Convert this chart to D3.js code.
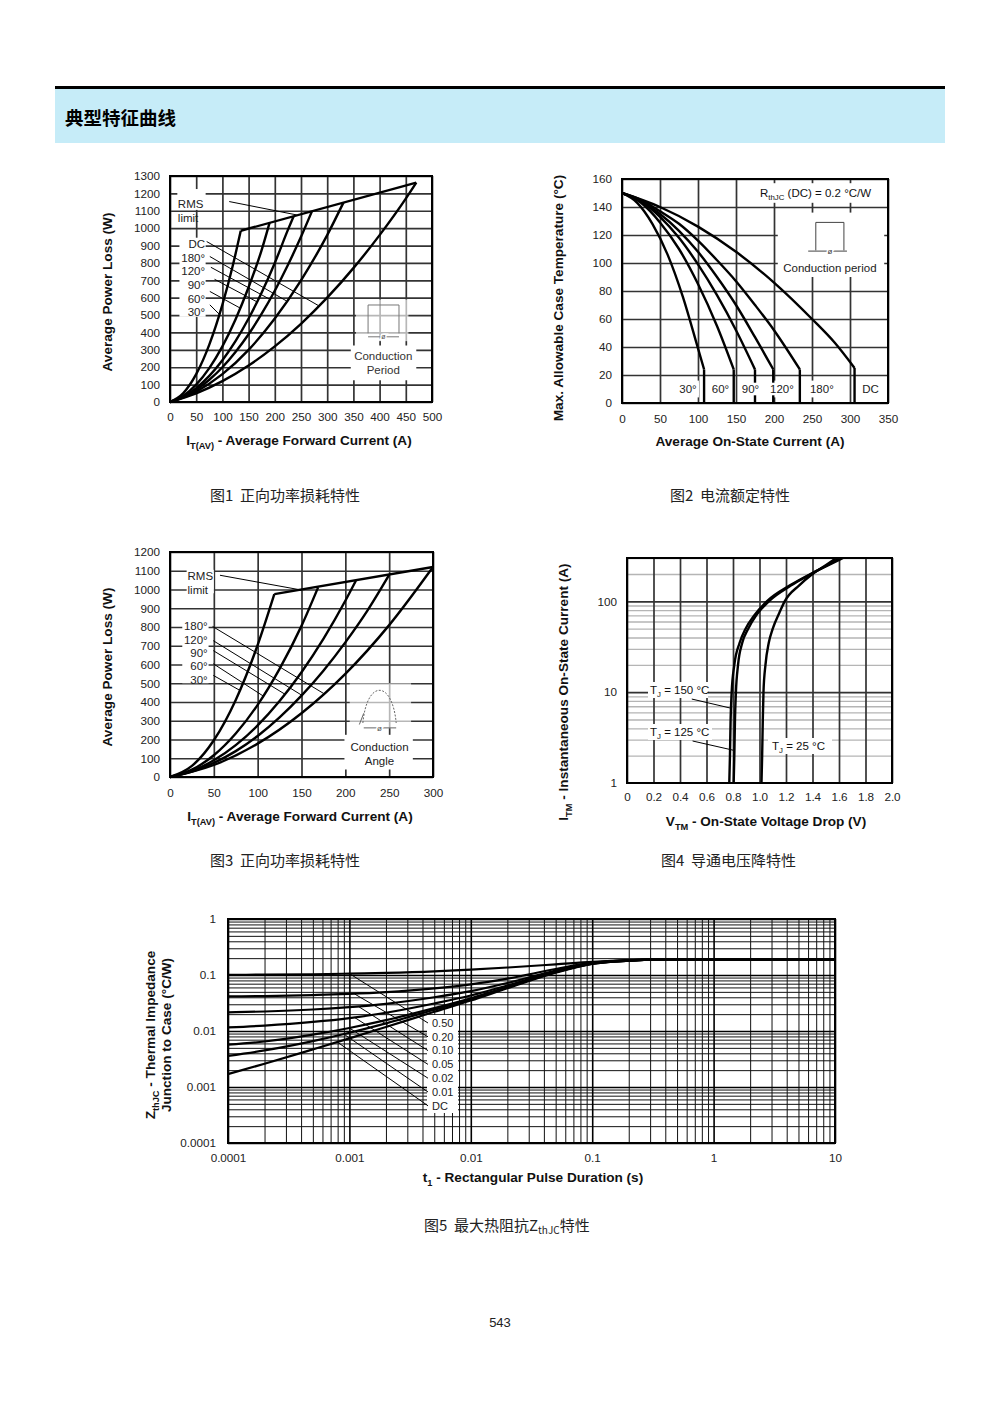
<!DOCTYPE html>
<html>
<head>
<meta charset="utf-8">
<script src="https://cdn.jsdelivr.net/npm/d3@7"></script>
<style>
body { margin: 0; background: #fff; }
svg { display: block; }
text { font-family: "Liberation Sans", Arial, sans-serif; white-space: pre; }
.cn { font-family: "Noto Sans CJK SC", sans-serif; }
</style>
</head>
<body>
<svg id="page" width="1000" height="1414"></svg>
<script>
// ---------- Fig 1 : power loss, rectangular conduction period ----------
var fig1XTicks = [0, 50, 100, 150, 200, 250, 300, 350, 400, 450, 500];
var fig1YTicks = [0, 100, 200, 300, 400, 500, 600, 700, 800, 900, 1000, 1100, 1200, 1300];
var fig1_30  = [[0,0],[25,50],[50,160],[75,330],[100,560],[120,787],[135,985]];
var fig1_60  = [[0,0],[25,35],[50,100],[75,195],[100,320],[125,475],[150,660],[175,875],[190,1030]];
var fig1_90  = [[0,0],[25,30],[50,80],[75,150],[100,240],[125,350],[150,480],[175,630],[200,800],[225,990],[236,1069]];
var fig1_120 = [[0,0],[25,28],[50,70],[75,128],[100,200],[125,288],[150,390],[175,508],[200,640],[225,788],[250,950],[271,1098]];
var fig1_180 = [[0,0],[50,60],[100,160],[150,300],[200,480],[250,700],[300,960],[331,1147]];
var fig1_dc  = [[0,0],[50,50],[100,120],[150,210],[200,320],[250,450],[300,600],[350,770],[400,960],[450,1170],[470,1262]];
var fig1_rms = [[135,985],[470,1262]];
var fig1Labels = ['DC', '180°', '120°', '90°', '60°', '30°'];

// ---------- Fig 2 : current rating (case temperature) ----------
var fig2XTicks = [0, 50, 100, 150, 200, 250, 300, 350];
var fig2YTicks = [0, 20, 40, 60, 80, 100, 120, 140, 160];
var fig2_30  = [[0,150],[20,143],[40,128],[60,106],[80,76],[100,39],[108,24]];
var fig2_60  = [[0,150],[25,143],[50,129],[75,110],[100,85],[125,55],[147,24]];
var fig2_90  = [[0,150],[25,144],[50,133],[75,118],[100,99],[125,77],[150,52],[175,24]];
var fig2_120 = [[0,150],[25,144],[50,135],[75,123],[100,108],[125,90],[150,70],[175,47],[199,24]];
var fig2_180 = [[0,150],[25,145],[50,137],[75,128],[100,116],[125,102],[150,87],[175,70],[200,52],[234,24]];
var fig2_dc  = [[0,150],[50,140],[100,126],[150,108],[200,86],[250,60],[280,43],[306,25]];
var fig2Labels = ['30°', '60°', '90°', '120°', '180°', 'DC'];

// ---------- Fig 3 : power loss, sinusoidal conduction angle ----------
var fig3XTicks = [0, 50, 100, 150, 200, 250, 300];
var fig3YTicks = [0, 100, 200, 300, 400, 500, 600, 700, 800, 900, 1000, 1100, 1200];
var fig3_30  = [[0,0],[25,59],[50,196],[75,411],[100,704],[119,975]];
var fig3_60  = [[0,0],[25,39],[50,116],[75,232],[100,385],[125,577],[150,806],[169,1012]];
var fig3_90  = [[0,0],[25,32],[50,89],[75,170],[100,275],[125,405],[150,559],[175,737],[200,940],[212,1047]];
var fig3_120 = [[0,0],[25,29],[50,75],[75,138],[100,219],[125,318],[150,434],[175,567],[200,718],[225,886],[250,1078]];
var fig3_180 = [[0,0],[50,64],[100,178],[150,340],[200,550],[250,810],[300,1120]];
var fig3_rms = [[119,975],[300,1120]];
var fig3Labels = ['180°', '120°', '90°', '60°', '30°'];

// ---------- Fig 4 : on-state voltage drop ----------
var fig4XTicks = [0, 0.2, 0.4, 0.6, 0.8, 1.0, 1.2, 1.4, 1.6, 1.8, 2.0];
var fig4YTicks = [1, 10, 100];
var fig4_25  = [[1.015,1],[1.02,2],[1.025,5],[1.03,10],[1.045,20],[1.07,35],[1.1,50],[1.15,75],[1.19,100],[1.3,150],[1.40,200],[1.5,250],[1.58,300]];
var fig4_125 = [[0.805,1],[0.81,2],[0.815,5],[0.822,10],[0.838,20],[0.87,35],[0.915,50],[0.975,70],[1.07,100],[1.24,150],[1.39,200],[1.51,250],[1.61,300]];
var fig4_150 = [[0.772,1],[0.777,2],[0.782,5],[0.79,10],[0.81,20],[0.85,35],[0.895,50],[0.96,70],[1.055,100],[1.23,150],[1.385,200],[1.52,250],[1.63,300]];

// ---------- Fig 5 : transient thermal impedance ----------
var fig5XTicks = [0.0001, 0.001, 0.01, 0.1, 1, 10];
var fig5XLabels = ['0.0001', '0.001', '0.01', '0.1', '1', '10'];
var fig5YTicks = [0.0001, 0.001, 0.01, 0.1, 1];
var fig5YLabels = ['0.0001', '0.001', '0.01', '0.1', '1'];
var fig5T   = [0.0001, 0.0002, 0.0005, 0.001, 0.002, 0.005, 0.01, 0.02, 0.05, 0.1, 0.2, 0.4, 1, 10];
var fig5_50 = [0.1005, 0.1015, 0.103, 0.106, 0.109, 0.116, 0.125, 0.136, 0.155, 0.172, 0.185, 0.19, 0.19, 0.19];
var fig5_20 = [0.0414, 0.0421, 0.0438, 0.0459, 0.0494, 0.0576, 0.068, 0.086, 0.128, 0.166, 0.183, 0.19, 0.19, 0.19];
var fig5_10 = [0.0215, 0.0223, 0.0242, 0.0267, 0.0306, 0.04, 0.0515, 0.072, 0.12, 0.163, 0.182, 0.19, 0.19, 0.19];
var fig5_05 = [0.0116, 0.0125, 0.0145, 0.017, 0.0212, 0.031, 0.043, 0.065, 0.116, 0.161, 0.181, 0.19, 0.19, 0.19];
var fig5_02 = [0.0057, 0.0065, 0.0086, 0.0113, 0.0156, 0.0256, 0.0385, 0.061, 0.113, 0.16, 0.18, 0.19, 0.19, 0.19];
var fig5_01 = [0.0036, 0.0045, 0.0066, 0.0093, 0.0137, 0.024, 0.037, 0.06, 0.112, 0.159, 0.18, 0.19, 0.19, 0.19];
var fig5_dc = [0.0017, 0.0026, 0.0047, 0.0074, 0.0118, 0.022, 0.035, 0.058, 0.11, 0.158, 0.18, 0.19, 0.19, 0.19];
var fig5Labels = ['0.50', '0.20', '0.10', '0.05', '0.02', '0.01', 'DC'];

var svg = d3.select('#page');
var TITLE = 13.6;

// Build scales and group for one chart frame
function makeChart(o){
    var x = (o.xlog ? d3.scaleLog() : d3.scaleLinear()).domain(o.xd).range([o.x0, o.x1]);
    var y = (o.ylog ? d3.scaleLog() : d3.scaleLinear()).domain(o.yd).range([o.y1, o.y0]);
    var g = svg.append('g');
    return {g: g, x: x, y: y, o: o};
}

// Grid lines through the axis generators
function drawGrid(c, xv, yv, stroke, sw, dir){
    var o = c.o;
    if(dir !== 'y'){
        c.g.append('g')
        .attr('transform', 'translate(0,' + o.y1 + ')')
        .call(d3.axisBottom(c.x).tickValues(xv).tickSize(-(o.y1 - o.y0)).tickFormat(''))
        .call(function(s){ s.select('.domain').remove(); })
        .selectAll('line').attr('stroke', stroke).attr('stroke-width', sw);
    }
    if(dir !== 'x'){
        c.g.append('g')
        .attr('transform', 'translate(' + o.x0 + ',0)')
        .call(d3.axisLeft(c.y).tickValues(yv).tickSize(-(o.x1 - o.x0)).tickFormat(''))
        .call(function(s){ s.select('.domain').remove(); })
        .selectAll('line').attr('stroke', stroke).attr('stroke-width', sw);
    }
}

// Tick labels only (no tick marks)
function tickLabels(c, xv, yv, fx, fy, px, py){
    var o = c.o;
    c.g.append('g')
    .attr('transform', 'translate(0,' + o.y1 + ')')
    .call(d3.axisBottom(c.x).tickValues(xv).tickSize(0).tickPadding(px).tickFormat(fx))
    .call(function(s){ s.select('.domain').remove(); })
    .attr('font-family', null).attr('font-size', null)
    .selectAll('text').attr('font-size', 11.7).attr('fill', '#222');
    c.g.append('g')
    .attr('transform', 'translate(' + o.x0 + ',0)')
    .call(d3.axisLeft(c.y).tickValues(yv).tickSize(0).tickPadding(py).tickFormat(fy))
    .call(function(s){ s.select('.domain').remove(); })
    .attr('font-family', null).attr('font-size', null)
    .selectAll('text').attr('font-size', 11.7).attr('fill', '#222');
}

function frame(c){
    var o = c.o;
    c.g.append('rect')
    .attr('x', o.x0).attr('y', o.y0)
    .attr('width', o.x1 - o.x0).attr('height', o.y1 - o.y0)
    .attr('fill', 'none').attr('stroke', '#000').attr('stroke-width', 2);
}

function curve(c, data, sw, clip){
    var line = d3.line()
        .x(function(d){ return c.x(d[0]); })
        .y(function(d){ return c.y(d[1]); })
        .curve(d3.curveMonotoneX);
    var p = c.g.append('path')
    .datum(data)
    .attr('fill', 'none')
    .attr('stroke', '#000')
    .attr('stroke-width', sw || 2.4)
    .attr('stroke-linejoin', 'round')
    .attr('d', line);
    if(clip) p.attr('clip-path', 'url(#' + clip + ')');
    return p;
}

// Straight line between two data points
function seg(c, a, b, sw, col){
    c.g.append('line')
    .attr('x1', c.x(a[0])).attr('y1', c.y(a[1]))
    .attr('x2', c.x(b[0])).attr('y2', c.y(b[1]))
    .attr('stroke', col || '#000').attr('stroke-width', sw || 1);
}

// White box in data coordinates
function whiteBox(c, xa, xb, ya, yb, op){
    var x1 = c.x(xa), x2 = c.x(xb), y1 = c.y(ya), y2 = c.y(yb);
    c.g.append('rect')
    .attr('x', Math.min(x1, x2)).attr('y', Math.min(y1, y2))
    .attr('width', Math.abs(x2 - x1)).attr('height', Math.abs(y2 - y1))
    .attr('fill', '#fff').attr('opacity', op || 1);
}

// Text with optional subscripts: parts are strings or [sub] arrays
function richText(g, x, y, parts, size, weight, anchor, rotate){
    var t = g.append('text')
        .attr('x', x).attr('y', y)
        .attr('font-size', size)
        .attr('font-weight', weight || 'normal')
        .attr('text-anchor', anchor || 'start')
        .attr('fill', '#111');
    if(rotate) t.attr('transform', 'rotate(-90,' + x + ',' + y + ')');
    var shift = 0;
    parts.forEach(function(p){
        if(Array.isArray(p)){
            t.append('tspan').text(p[0]).attr('font-size', size * 0.68).attr('dy', size * 0.3 - shift);
            shift = size * 0.3;
        }
        else{
            t.append('tspan').text(p).attr('dy', -shift);
            shift = 0;
        }
    });
    return t;
}

function dataText(c, xv, yv, s, anchor, size){
    c.g.append('text')
    .attr('x', c.x(xv)).attr('y', c.y(yv))
    .attr('dy', '0.35em')
    .attr('text-anchor', anchor || 'start')
    .attr('font-size', size || 11.5)
    .attr('fill', '#222')
    .text(s);
}

// ================= Header =================
svg.append('rect').attr('x', 55).attr('y', 86).attr('width', 890).attr('height', 3).attr('fill', '#000');
svg.append('rect').attr('x', 55).attr('y', 89).attr('width', 890).attr('height', 54).attr('fill', '#c6ecf8');
svg.append('text').attr('class', 'cn').attr('x', 65).attr('y', 125)
    .attr('font-size', 18.5).attr('font-weight', 'bold').attr('fill', '#000').text('典型特征曲线');

// ================= Fig 1 =================
var c1 = makeChart({x0: 170, x1: 432, y0: 176, y1: 402, xd: [0, 500], yd: [0, 1300]});
drawGrid(c1, fig1XTicks, fig1YTicks, '#333', 1.7);
whiteBox(c1, 14, 68, 1225, 1105);
whiteBox(c1, 18, 68, 945, 490);
whiteBox(c1, 345, 470, 325, 125);
whiteBox(c1, 355, 455, 590, 350, 0.65);
[fig1_30, fig1_60, fig1_90, fig1_120, fig1_180, fig1_dc, fig1_rms].forEach(function(d){ curve(c1, d); });
// leaders
seg(c1, [113,1153], [242,1076]);
seg(c1, [70,923], [283,555]);
seg(c1, [76,837], [223,580]);
seg(c1, [78,775], [191,590]);
seg(c1, [85,706], [166,576]);
seg(c1, [76,636], [134,540]);
seg(c1, [76,559], [94,505]);
dataText(c1, 15, 1140, 'RMS');
dataText(c1, 15, 1060, 'limit');
fig1Labels.forEach(function(s, i){ dataText(c1, 67, 910 - i * 79, s, 'end'); });
// conduction period inset
var ip = c1.g.append('g').attr('stroke', '#777').attr('stroke-width', 1).attr('fill', 'none');
ip.append('path').attr('d', 'M' + c1.x(378) + ',' + c1.y(395) + 'V' + c1.y(558) + 'H' + c1.x(437) + 'V' + c1.y(395));
ip.append('line').attr('x1', c1.x(378)).attr('x2', c1.x(437)).attr('y1', c1.y(375)).attr('y2', c1.y(375));
c1.g.append('text').attr('x', c1.x(407)).attr('y', c1.y(375)).attr('dy', '0.35em').attr('text-anchor', 'middle')
    .attr('font-size', 7).attr('fill', '#555').style('paint-order', 'stroke').attr('stroke', '#fff').attr('stroke-width', 3).text('ø');
c1.g.append('text').attr('x', c1.x(407)).attr('y', c1.y(264)).attr('dy', '0.35em').attr('text-anchor', 'middle').attr('font-size', 11.5).attr('fill', '#333').text('Conduction');
c1.g.append('text').attr('x', c1.x(407)).attr('y', c1.y(185)).attr('dy', '0.35em').attr('text-anchor', 'middle').attr('font-size', 11.5).attr('fill', '#333').text('Period');
frame(c1);
tickLabels(c1, fig1XTicks, fig1YTicks, d3.format('d'), d3.format('d'), 11, 10);
richText(svg, 299, 445, ['I', ['T(AV)'], ' - Average Forward Current (A)'], TITLE, 'bold', 'middle');
richText(svg, 112, 292, ['Average Power Loss (W)'], TITLE, 'bold', 'middle', true);

// ================= Fig 2 =================
var c2 = makeChart({x0: 622, x1: 888, y0: 179, y1: 403, xd: [0, 350], yd: [0, 160]});
drawGrid(c2, fig2XTicks, fig2YTicks, '#333', 1.7);
whiteBox(c2, 176, 340, 157, 143);
whiteBox(c2, 205, 345, 136, 90);
var lx2 = [86.8, 129.6, 169, 210.5, 263, 327];
fig2Labels.forEach(function(s, i){
    var w = s.length * 6.3 + 3;
    c2.g.append('rect').attr('x', c2.x(lx2[i]) - w / 2).attr('y', c2.y(16)).attr('width', w).attr('height', c2.y(4) - c2.y(16)).attr('fill', '#fff');
});
[fig2_30, fig2_60, fig2_90, fig2_120, fig2_180, fig2_dc].forEach(function(d){
    curve(c2, d);
    var e = d[d.length - 1];
    seg(c2, e, [e[0], 0], 2.4);
});
// label boxes sit over the vertical drops, as in the print
fig2Labels.forEach(function(s, i){
    var w = s.length * 6.3 + 3;
    c2.g.append('rect').attr('x', c2.x(lx2[i]) - w / 2).attr('y', c2.y(14.5)).attr('width', w).attr('height', c2.y(5.5) - c2.y(14.5)).attr('fill', '#fff');
    dataText(c2, lx2[i], 10, s, 'middle');
});
richText(c2.g, 760, 197, ['R', ['thJC'], ' (DC) = 0.2 °C/W'], 11.5, 'normal', 'start');
var ip2 = c2.g.append('g').attr('stroke', '#444').attr('stroke-width', 1).attr('fill', 'none');
ip2.append('path').attr('d', 'M' + c2.x(255) + ',' + c2.y(109) + 'V' + c2.y(129) + 'H' + c2.x(292) + 'V' + c2.y(109));
ip2.append('line').attr('x1', c2.x(245)).attr('x2', c2.x(296)).attr('y1', c2.y(108.5)).attr('y2', c2.y(108.5));
c2.g.append('text').attr('x', c2.x(273.5)).attr('y', c2.y(108.5)).attr('dy', '0.35em').attr('text-anchor', 'middle')
    .attr('font-size', 8).attr('fill', '#444').style('paint-order', 'stroke').attr('stroke', '#fff').attr('stroke-width', 3).text('ø');
dataText(c2, 273.5, 96.5, 'Conduction period', 'middle');
frame(c2);
tickLabels(c2, fig2XTicks, fig2YTicks, d3.format('d'), d3.format('d'), 12, 10);
richText(svg, 750, 446, ['Average On-State Current (A)'], TITLE, 'bold', 'middle');
richText(svg, 562.5, 298, ['Max. Allowable Case Temperature (°C)'], TITLE, 'bold', 'middle', true);

// ================= Fig 3 =================
var c3 = makeChart({x0: 170, x1: 433, y0: 552, y1: 777, xd: [0, 300], yd: [0, 1200]});
drawGrid(c3, fig3XTicks, fig3YTicks, '#333', 1.7);
whiteBox(c3, 19, 50, 1105, 980);
whiteBox(c3, 14, 44, 845, 500);
whiteBox(c3, 199, 277, 225, 40);
whiteBox(c3, 205, 275, 500, 260, 0.65);
[fig3_30, fig3_60, fig3_90, fig3_120, fig3_180, fig3_rms].forEach(function(d){ curve(c3, d); });
seg(c3, [57,1076], [150,997]);
seg(c3, [48.6,803], [175.4,445]);
seg(c3, [49.4,727], [150,437]);
seg(c3, [49.4,674], [131,442]);
seg(c3, [49.4,604], [106.3,432]);
seg(c3, [49.4,542], [79.7,462]);
dataText(c3, 20, 1070, 'RMS');
dataText(c3, 20, 995, 'limit');
fig3Labels.forEach(function(s, i){ dataText(c3, 43, 803 - i * (i < 4 ? 70 : 71), s, 'end'); });
// conduction angle inset
var bx = c3.x(220), ex = c3.x(258), mx = c3.x(239), by = c3.y(288), ty = c3.y(478);
c3.g.append('path')
    .attr('d', 'M' + bx + ',' + by + 'C' + (bx + 4) + ',' + (ty - 8) + ' ' + (ex - 4) + ',' + (ty - 8) + ' ' + ex + ',' + by)
    .attr('fill', 'none').attr('stroke', '#666').attr('stroke-width', 1).attr('stroke-dasharray', '2,1.5');
seg(c3, [216,280], [221,340], 1, '#666');
seg(c3, [221,262], [258,262], 1, '#666');
c3.g.append('text').attr('x', mx).attr('y', c3.y(262)).attr('dy', '0.35em').attr('text-anchor', 'middle')
    .attr('font-size', 8).attr('fill', '#555').style('paint-order', 'stroke').attr('stroke', '#fff').attr('stroke-width', 3).text('ø');
dataText(c3, 239, 158, 'Conduction', 'middle');
dataText(c3, 239, 85, 'Angle', 'middle');
frame(c3);
tickLabels(c3, fig3XTicks, fig3YTicks, d3.format('d'), d3.format('d'), 12, 10);
richText(svg, 300, 821, ['I', ['T(AV)'], ' - Average Forward Current (A)'], TITLE, 'bold', 'middle');
richText(svg, 112, 667, ['Average Power Loss (W)'], TITLE, 'bold', 'middle', true);

// ================= Fig 4 =================
var c4 = makeChart({x0: 627, x1: 892, y0: 558, y1: 783, xd: [0, 2], yd: [1, 300], ylog: true});
svg.append('defs').append('clipPath').attr('id', 'clip4').append('rect')
    .attr('x', 627).attr('y', 558).attr('width', 265).attr('height', 225);
var minor4 = [];
[1, 10, 100].forEach(function(d){ for(var k = 2; k <= 9; k++){ if(k * d <= 300) minor4.push(k * d); } });
drawGrid(c4, [], minor4, '#b5b5b5', 1.3, 'y');
drawGrid(c4, fig4XTicks, [10, 100], '#333', 1.7);
c4.g.append('rect').attr('x', 648).attr('y', 682).attr('width', 60).attr('height', 16).attr('fill', '#fff');
c4.g.append('rect').attr('x', 648).attr('y', 724).attr('width', 64).attr('height', 16).attr('fill', '#fff');
c4.g.append('rect').attr('x', 768).attr('y', 738).attr('width', 64).attr('height', 16).attr('fill', '#fff');
[fig4_25, fig4_125, fig4_150].forEach(function(d){ curve(c4, d, 2.4, 'clip4'); });
seg(c4, [0.489,8.4], [0.777,6.7]);
seg(c4, [0.495,2.9], [0.80,2.3]);
richText(c4.g, 650, 694, ['T', ['J'], ' = 150 °C'], 11.5, 'normal', 'start');
richText(c4.g, 650, 736, ['T', ['J'], ' = 125 °C'], 11.5, 'normal', 'start');
richText(c4.g, 772, 750, ['T', ['J'], ' = 25 °C'], 11.5, 'normal', 'start');
frame(c4);
tickLabels(c4, fig4XTicks, fig4YTicks, function(d){ return d === 0 ? '0' : d3.format('.1f')(d); }, d3.format('d'), 10, 10);
richText(svg, 766, 826, ['V', ['TM'], ' - On-State Voltage Drop (V)'], TITLE, 'bold', 'middle');
richText(svg, 567.5, 692, ['I', ['TM'], ' - Instantaneous On-State Current (A)'], TITLE, 'bold', 'middle', true);

// ================= Fig 5 =================
var c5 = makeChart({x0: 228, x1: 835, y0: 919, y1: 1143, xd: [0.0001, 10], yd: [0.0001, 1], xlog: true, ylog: true});
var minorX5 = [], minorY5 = [];
[0.0001, 0.001, 0.01, 0.1, 1].forEach(function(d){ for(var k = 2; k <= 9; k++){ minorX5.push(k * d); } });
[0.0001, 0.001, 0.01, 0.1].forEach(function(d){ for(var k = 2; k <= 9; k++){ minorY5.push(k * d); } });
drawGrid(c5, minorX5, minorY5, '#111', 1);
drawGrid(c5, fig5XTicks, fig5YTicks, '#000', 1.6);
c5.g.append('rect').attr('x', 427).attr('y', 1015).attr('width', 31).attr('height', 98).attr('fill', '#fff');
[fig5_50, fig5_20, fig5_10, fig5_05, fig5_02, fig5_01, fig5_dc].forEach(function(z){
    curve(c5, fig5T.map(function(t, i){ return [t, z[i]]; }), 2.2);
});
var lead5 = [[0.001,0.106],[0.0011,0.046],[0.0012,0.027],[0.0011,0.0175],[0.001,0.0113],[0.0009,0.0088],[0.0008,0.0063]];
fig5Labels.forEach(function(s, i){
    var yy = 1023 + i * 13.8;
    c5.g.append('line').attr('x1', 428).attr('y1', yy).attr('x2', c5.x(lead5[i][0])).attr('y2', c5.y(lead5[i][1]))
        .attr('stroke', '#000').attr('stroke-width', 1);
    c5.g.append('text').attr('x', 432).attr('y', yy).attr('dy', '0.35em').attr('font-size', 11).attr('fill', '#222').text(s);
});
frame(c5);
tickLabels(c5, fig5XTicks, fig5YTicks,
    function(d, i){ return fig5XLabels[i]; },
    function(d, i){ return fig5YLabels[i]; }, 11, 12);
richText(svg, 533, 1182, ['t', ['1'], ' - Rectangular Pulse Duration (s)'], TITLE, 'bold', 'middle');
richText(svg, 154.5, 1035, ['Z', ['thJC'], ' - Thermal Impedance'], TITLE, 'bold', 'middle', true);
richText(svg, 170.5, 1035, ['Junction to Case (°C/W)'], TITLE, 'bold', 'middle', true);

// ================= Captions =================
function caption(x, y, parts){
    var t = svg.append('text').attr('class', 'cn').attr('x', x).attr('y', y).attr('font-size', 15).attr('fill', '#222');
    parts.forEach(function(p){
        if(Array.isArray(p)) t.append('tspan').text(p[0]).attr('font-size', 10).attr('dy', 3);
        else t.append('tspan').text(p).attr('dy', t.selectAll('tspan').size() > 0 ? -3 : 0);
    });
}
caption(210, 504, ['图1  正向功率损耗特性']);
caption(670, 504, ['图2  电流额定特性']);
caption(210, 869, ['图3  正向功率损耗特性']);
caption(661, 869, ['图4  导通电压降特性']);
caption(424, 1234, ['图5  最大热阻抗Z', ['thJC'], '特性']);
svg.append('text').attr('x', 500).attr('y', 1327).attr('text-anchor', 'middle').attr('font-size', 13).attr('fill', '#222').text('543');
</script>
</body>
</html>
